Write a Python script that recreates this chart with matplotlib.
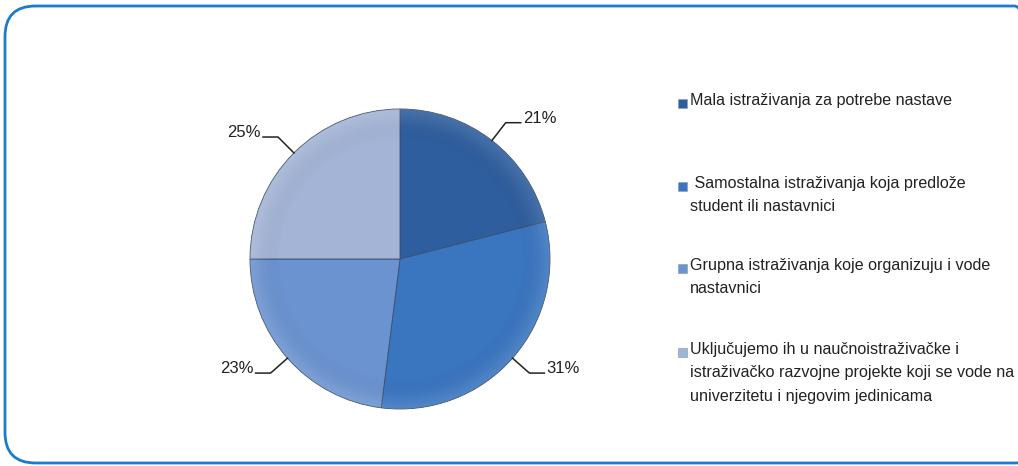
import numpy as np
import matplotlib.pyplot as plt
from matplotlib.patches import FancyBboxPatch

# data
labels = ['Mala istraživanja za potrebe nastave',
          ' Samostalna istraživanja koja predlože\nstudent ili nastavnici',
          'Grupna istraživanja koje organizuju i vode\nnastavnici',
          'Uključujemo ih u naučnoistraživačke i\nistraživačko razvojne projekte koji se vode na\nuniverzitetu i njegovim jedinicama']
shares = [21, 31, 23, 25]
pct_text = ['21%', '31%', '23%', '25%']
colors = ['#2F5E9E', '#3A75C0', '#6B93D0', '#A4B4D6']

W, H = 1018, 466
fig = plt.figure(figsize=(W / 100, H / 100), dpi=100)
plt.rcParams['font.family'] = ['Liberation Sans', 'DejaVu Sans']

# rounded frame
frame = FancyBboxPatch((5 / W, 3 / H), 1040 / W, 457 / H,
                       boxstyle='round,pad=0,rounding_size=0.03',
                       transform=fig.transFigure, fill=False,
                       edgecolor='#1B7CCB', linewidth=2, mutation_aspect=W / H)
fig.patches.append(frame)

# pie centred at (400, 259) px, radius 150 px
cx, cy, r = 400, 259, 150
ax = fig.add_axes([(cx - r) / W, (H - cy - r) / H, 2 * r / W, 2 * r / H])
wedges, _ = ax.pie(shares, colors=colors, startangle=90, counterclock=False,
                   radius=1, wedgeprops=dict(edgecolor='#3b4f6b', linewidth=0.6))
ax.set_xlim(-1, 1)
ax.set_ylim(-1, 1)
ax.set_aspect('equal')
ax.axis('off')

# light sheen on each wedge
yy, xx = np.mgrid[-1:1:300j, -1:1:300j]
sheen = np.clip(np.hypot(xx, yy) - 0.8, 0, 0.2) / 0.2
for w in wedges:
    im = ax.imshow(sheen, extent=(-1, 1, -1, 1), origin='lower', cmap='Greys_r',
                   vmin=0, vmax=1, alpha=0.12 * sheen, zorder=w.get_zorder() + 0.5)
    im.set_clip_path(w)

# labels with leader lines
cum = np.cumsum([0] + shares) / sum(shares)
for i, t in enumerate(pct_text):
    ang = np.deg2rad(90 - 360 * (cum[i] + cum[i + 1]) / 2)
    x0, y0 = np.cos(ang) * 1.0, np.sin(ang) * 1.0
    x1, y1 = np.cos(ang) * 1.15, np.sin(ang) * 1.15
    s = 1 if np.cos(ang) > 0 else -1
    x2 = x1 + s * 0.1
    ax.plot([x0, x1, x2], [y0, y1, y1], color='#222222', lw=1.1, clip_on=False)
    ax.text(x2 + s * 0.015, y1 + 0.03, t, ha='left' if s > 0 else 'right',
            va='center', fontsize=12, color='#222222')

# legend
ly = [103, 186, 268, 352]
for lab, c, y in zip(labels, colors, ly):
    fig.patches.append(plt.Rectangle((678 / W, 1 - (y + 5) / H), 9 / W, 9 / H,
                                     transform=fig.transFigure, facecolor=c,
                                     edgecolor='#8aa0c0', linewidth=0.5))
    fig.text(690 / W, 1 - (y - 10) / H, lab, ha='left', va='top', fontsize=11.6,
             color='#222222', linespacing=1.7)

fig.savefig('out.png', dpi=100)
